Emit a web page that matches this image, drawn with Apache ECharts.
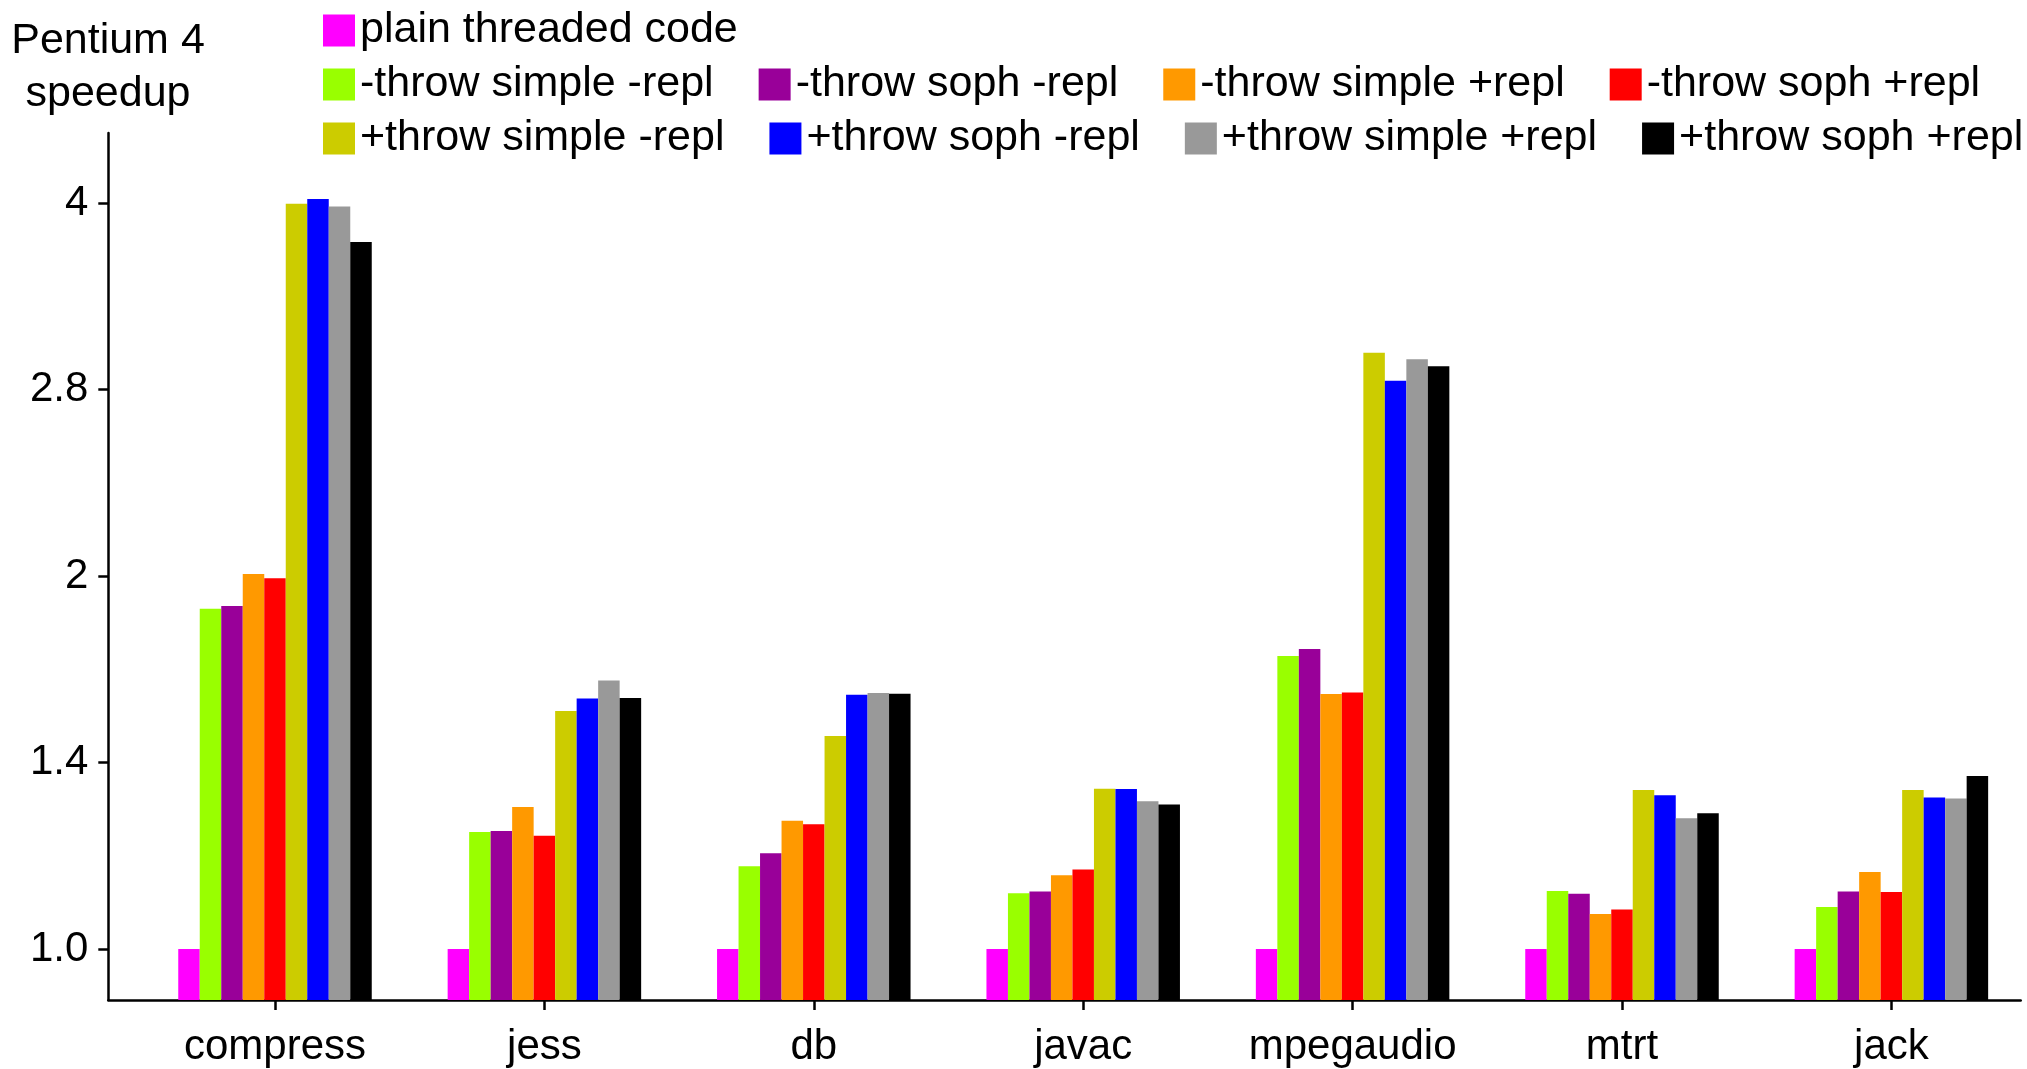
<!DOCTYPE html>
<html><head><meta charset="utf-8">
<script src="https://cdn.jsdelivr.net/npm/echarts@6/dist/echarts.min.js"></script>
<style>html,body{margin:0;padding:0;background:#fff}#c{width:2027px;height:1069px}</style>
</head><body><div id="c"></div>
<script>
// ---------- data ----------
const categories = ['compress', 'jess', 'db', 'javac', 'mpegaudio', 'mtrt', 'jack'];
const seriesNames = [
  'plain threaded code',
  '-throw simple -repl', '-throw soph -repl', '-throw simple +repl', '-throw soph +repl',
  '+throw simple -repl', '+throw soph -repl', '+throw simple +repl', '+throw soph +repl'
];
const plainThreaded      = [1.0, 1.0, 1.0, 1.0, 1.0, 1.0, 1.0];
const throwSimpleNoRepl  = [1.882, 1.243, 1.166, 1.109, 1.724, 1.114, 1.081];
const throwSophNoRepl    = [1.892, 1.245, 1.195, 1.113, 1.746, 1.108, 1.113];
const throwSimpleRepl    = [2.008, 1.302, 1.269, 1.147, 1.606, 1.067, 1.154];
const throwSophRepl      = [1.992, 1.234, 1.261, 1.159, 1.611, 1.076, 1.112];
const pThrowSimpleNoRepl = [3.995, 1.556, 1.486, 1.347, 3.028, 1.344, 1.344];
const pThrowSophNoRepl   = [4.030, 1.593, 1.604, 1.346, 2.875, 1.331, 1.325];
const pThrowSimpleRepl   = [3.975, 1.647, 1.609, 1.316, 2.992, 1.275, 1.323];
const pThrowSophRepl     = [3.720, 1.594, 1.607, 1.308, 2.954, 1.287, 1.379];
const tickValues = [1.0, 1.4142, 2, 2.8284, 4];
const tickLabels = ['1.0', '1.4', '2', '2.8', '4'];
const Y_MIN = 0.9096, Y_MAX = 4.556;

// ---------- styling ----------
const colors = ['#ff00ff', '#99ff00', '#990099', '#ff9900', '#ff0000', '#cccc00', '#0000ff', '#999999', '#000000'];
const allValues = [plainThreaded, throwSimpleNoRepl, throwSophNoRepl, throwSimpleRepl, throwSophRepl,
  pThrowSimpleNoRepl, pThrowSophNoRepl, pThrowSimpleRepl, pThrowSophRepl];

// log2 scale, shifted so the axis bottom is 0
const LMIN = Math.log2(Y_MIN);
const toAxis = v => Math.log2(v) - LMIN;
const AXIS_MAX = toAxis(Y_MAX);
const tickPos = tickValues.map(toAxis);
const FONT = 'Liberation Sans, Arial, Helvetica, sans-serif';

const chart = echarts.init(document.getElementById('c'), null, {renderer: 'canvas'});
const legendText = {fontSize: 43, fontFamily: FONT, color: '#000'};
const legendBase = {orient: 'horizontal', left: 323, itemWidth: 32, itemHeight: 32, itemGap: 45,
  icon: 'rect', selectedMode: false, padding: 0, textStyle: legendText};

chart.setOption({
  animation: false,
  backgroundColor: '#fff',
  title: {
    text: 'Pentium 4\nspeedup', left: 108, top: 15, textAlign: 'center', padding: 0,
    textStyle: {fontSize: 43, lineHeight: 53, fontWeight: 'normal', fontFamily: FONT, color: '#000'}
  },
  legend: [
    Object.assign({}, legendBase, {top: 9, data: seriesNames.slice(0, 1)}),
    Object.assign({}, legendBase, {top: 63, data: seriesNames.slice(1, 5)}),
    Object.assign({}, legendBase, {top: 117, data: seriesNames.slice(5, 9)})
  ],
  grid: [
    {left: 108.3, right: 6.3, top: 133, bottom: 69, containLabel: false, outerBoundsMode: 'none'},
    {left: 140.3, width: 1885.8, top: 133, bottom: 69, containLabel: false, outerBoundsMode: 'none'}
  ],
  xAxis: [
    {gridIndex: 0, type: 'value', min: 0, max: 1,
      axisLine: {show: true, onZero: false, lineStyle: {color: '#000', width: 2.5}},
      axisTick: {show: false}, axisLabel: {show: false}, splitLine: {show: false}},
    {gridIndex: 1, type: 'category', data: categories, position: 'bottom',
      axisLine: {show: false},
      axisTick: {show: true, interval: 0, alignWithLabel: true, length: 10, lineStyle: {color: '#000', width: 2.5}},
      axisLabel: {interval: 0, fontSize: 42, fontFamily: FONT, color: '#000', margin: 26, hideOverlap: false},
      splitLine: {show: false}}
  ],
  yAxis: [
    {gridIndex: 0, type: 'value', min: 0, max: AXIS_MAX,
      axisLine: {show: true, onZero: false, lineStyle: {color: '#000', width: 2.5}},
      axisTick: {show: true, length: 10, customValues: tickPos, lineStyle: {color: '#000', width: 2.5}},
      axisLabel: {show: true, customValues: tickPos, margin: 20, fontSize: 42, fontFamily: FONT, color: '#000',
        formatter: function (val) {
          let best = 0;
          for (let i = 1; i < tickPos.length; i++) {
            if (Math.abs(tickPos[i] - val) < Math.abs(tickPos[best] - val)) best = i;
          }
          return tickLabels[best];
        }},
      splitLine: {show: false}},
    {gridIndex: 1, type: 'value', min: 0, max: AXIS_MAX, show: false, splitLine: {show: false}}
  ],
  series: allValues.map((vals, i) => ({
    name: seriesNames[i], type: 'bar', xAxisIndex: 1, yAxisIndex: 1,
    data: vals.map(toAxis), barWidth: 21.5, barGap: '0%',
    itemStyle: {color: colors[i]}, emphasis: {disabled: true}
  }))
});
</script>
</body></html>
